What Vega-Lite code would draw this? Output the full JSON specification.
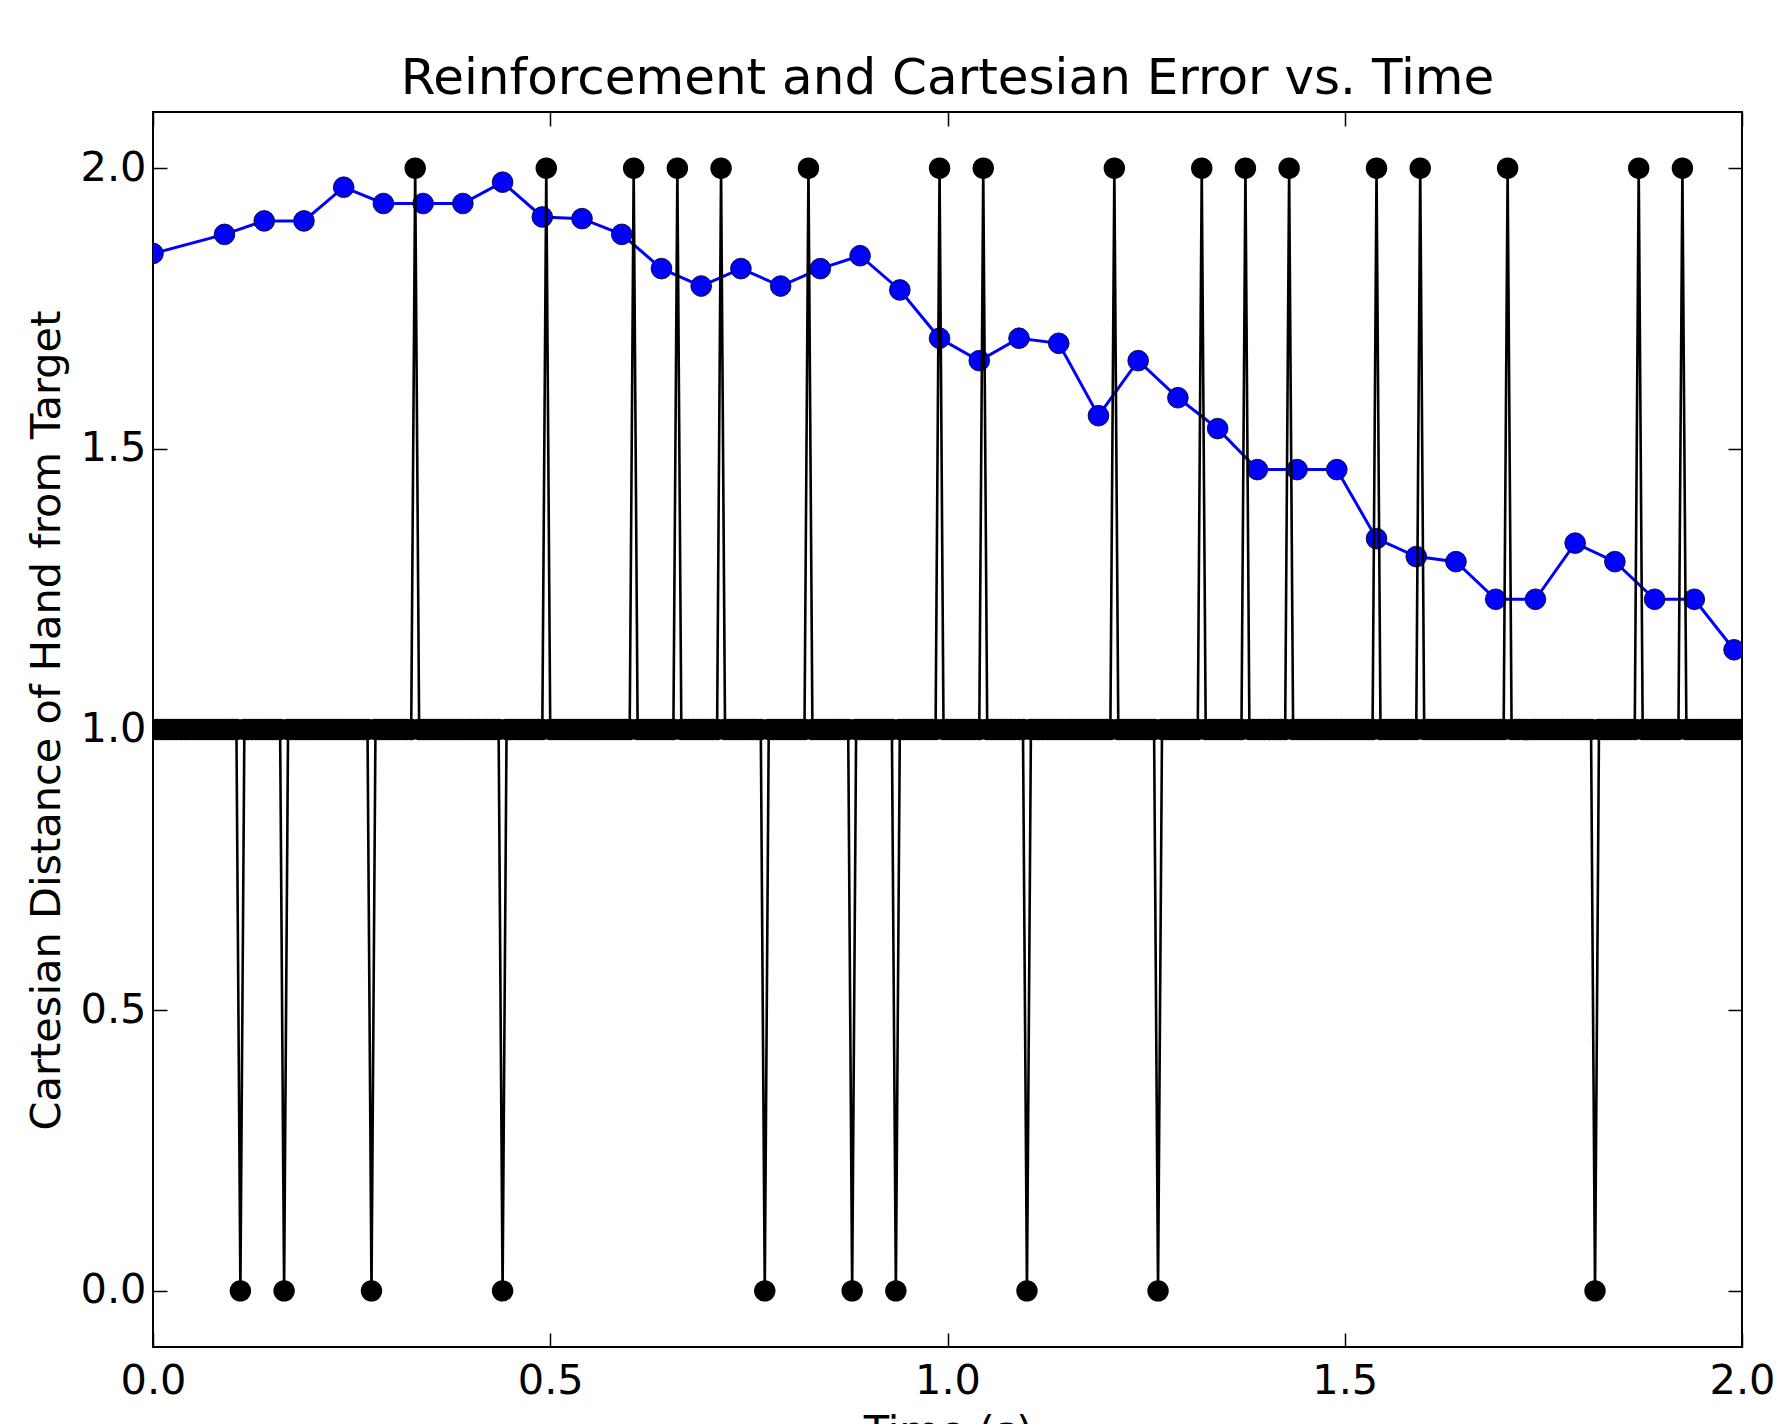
{
"$schema": "https://vega.github.io/schema/vega-lite/v6.json",
"width": 1589,
"height": 1235,
"autosize": {"type": "none"},
"padding": {"left": 153, "top": 112, "right": 35, "bottom": 77},
"background": "white",
"title": {"text": "Reinforcement and Cartesian Error vs. Time", "font": "DejaVu Sans", "fontSize": 50, "fontWeight": "normal", "color": "#000", "anchor": "middle", "frame": "group", "baseline": "alphabetic", "offset": -33},
"config": {
  "view": {"stroke": "#000", "strokeWidth": 2},
  "axis": {"domain": false, "grid": false, "tickColor": "#000", "tickWidth": 1.5, "tickSize": -14, "labelFont": "DejaVu Sans", "labelFontSize": 41.5, "labelColor": "#000", "labelFlush": false, "labelOverlap": false, "labelBound": false, "titleFont": "DejaVu Sans", "titleFontSize": 41.5, "titleColor": "#000", "titleFontWeight": "normal"}
},
"datasets": {
"blue": [
{"t":0,"d":1.848},{"t":0.09,"d":1.882},{"t":0.14,"d":1.906},{"t":0.19,"d":1.906},{"t":0.24,"d":1.966},{"t":0.29,"d":1.937},{"t":0.34,"d":1.937},{"t":0.39,"d":1.937},{"t":0.44,"d":1.975},{"t":0.49,"d":1.913},
{"t":0.54,"d":1.91},{"t":0.59,"d":1.882},{"t":0.64,"d":1.821},{"t":0.69,"d":1.79},{"t":0.74,"d":1.821},{"t":0.79,"d":1.79},{"t":0.84,"d":1.821},{"t":0.89,"d":1.844},{"t":0.94,"d":1.783},{"t":0.99,"d":1.697},
{"t":1.04,"d":1.657},{"t":1.09,"d":1.697},{"t":1.14,"d":1.688},{"t":1.19,"d":1.559},{"t":1.24,"d":1.657},{"t":1.29,"d":1.591},{"t":1.34,"d":1.536},{"t":1.39,"d":1.463},{"t":1.44,"d":1.463},{"t":1.49,"d":1.463},
{"t":1.54,"d":1.34},{"t":1.59,"d":1.308},{"t":1.64,"d":1.299},{"t":1.69,"d":1.232},{"t":1.74,"d":1.232},{"t":1.79,"d":1.332},{"t":1.84,"d":1.299},{"t":1.89,"d":1.232},{"t":1.94,"d":1.232},{"t":1.99,"d":1.142}
],
"rein": [
{"t":0,"r":1},{"t":0.005,"r":1},{"t":0.01,"r":1},{"t":0.015,"r":1},{"t":0.02,"r":1},{"t":0.025,"r":1},{"t":0.03,"r":1},{"t":0.035,"r":1},{"t":0.04,"r":1},{"t":0.045,"r":1},{"t":0.05,"r":1},{"t":0.055,"r":1},{"t":0.06,"r":1},{"t":0.065,"r":1},{"t":0.07,"r":1},{"t":0.075,"r":1},{"t":0.08,"r":1},{"t":0.085,"r":1},{"t":0.09,"r":1},{"t":0.095,"r":1},
{"t":0.1,"r":1},{"t":0.105,"r":1},{"t":0.11,"r":0},{"t":0.115,"r":1},{"t":0.12,"r":1},{"t":0.125,"r":1},{"t":0.13,"r":1},{"t":0.135,"r":1},{"t":0.14,"r":1},{"t":0.145,"r":1},{"t":0.15,"r":1},{"t":0.155,"r":1},{"t":0.16,"r":1},{"t":0.165,"r":0},{"t":0.17,"r":1},{"t":0.175,"r":1},{"t":0.18,"r":1},{"t":0.185,"r":1},{"t":0.19,"r":1},{"t":0.195,"r":1},
{"t":0.2,"r":1},{"t":0.205,"r":1},{"t":0.21,"r":1},{"t":0.215,"r":1},{"t":0.22,"r":1},{"t":0.225,"r":1},{"t":0.23,"r":1},{"t":0.235,"r":1},{"t":0.24,"r":1},{"t":0.245,"r":1},{"t":0.25,"r":1},{"t":0.255,"r":1},{"t":0.26,"r":1},{"t":0.265,"r":1},{"t":0.27,"r":1},{"t":0.275,"r":0},{"t":0.28,"r":1},{"t":0.285,"r":1},{"t":0.29,"r":1},{"t":0.295,"r":1},
{"t":0.3,"r":1},{"t":0.305,"r":1},{"t":0.31,"r":1},{"t":0.315,"r":1},{"t":0.32,"r":1},{"t":0.325,"r":1},{"t":0.33,"r":2},{"t":0.335,"r":1},{"t":0.34,"r":1},{"t":0.345,"r":1},{"t":0.35,"r":1},{"t":0.355,"r":1},{"t":0.36,"r":1},{"t":0.365,"r":1},{"t":0.37,"r":1},{"t":0.375,"r":1},{"t":0.38,"r":1},{"t":0.385,"r":1},{"t":0.39,"r":1},{"t":0.395,"r":1},
{"t":0.4,"r":1},{"t":0.405,"r":1},{"t":0.41,"r":1},{"t":0.415,"r":1},{"t":0.42,"r":1},{"t":0.425,"r":1},{"t":0.43,"r":1},{"t":0.435,"r":1},{"t":0.44,"r":0},{"t":0.445,"r":1},{"t":0.45,"r":1},{"t":0.455,"r":1},{"t":0.46,"r":1},{"t":0.465,"r":1},{"t":0.47,"r":1},{"t":0.475,"r":1},{"t":0.48,"r":1},{"t":0.485,"r":1},{"t":0.49,"r":1},{"t":0.495,"r":2},
{"t":0.5,"r":1},{"t":0.505,"r":1},{"t":0.51,"r":1},{"t":0.515,"r":1},{"t":0.52,"r":1},{"t":0.525,"r":1},{"t":0.53,"r":1},{"t":0.535,"r":1},{"t":0.54,"r":1},{"t":0.545,"r":1},{"t":0.55,"r":1},{"t":0.555,"r":1},{"t":0.56,"r":1},{"t":0.565,"r":1},{"t":0.57,"r":1},{"t":0.575,"r":1},{"t":0.58,"r":1},{"t":0.585,"r":1},{"t":0.59,"r":1},{"t":0.595,"r":1},
{"t":0.6,"r":1},{"t":0.605,"r":2},{"t":0.61,"r":1},{"t":0.615,"r":1},{"t":0.62,"r":1},{"t":0.625,"r":1},{"t":0.63,"r":1},{"t":0.635,"r":1},{"t":0.64,"r":1},{"t":0.645,"r":1},{"t":0.65,"r":1},{"t":0.655,"r":1},{"t":0.66,"r":2},{"t":0.665,"r":1},{"t":0.67,"r":1},{"t":0.675,"r":1},{"t":0.68,"r":1},{"t":0.685,"r":1},{"t":0.69,"r":1},{"t":0.695,"r":1},
{"t":0.7,"r":1},{"t":0.705,"r":1},{"t":0.71,"r":1},{"t":0.715,"r":2},{"t":0.72,"r":1},{"t":0.725,"r":1},{"t":0.73,"r":1},{"t":0.735,"r":1},{"t":0.74,"r":1},{"t":0.745,"r":1},{"t":0.75,"r":1},{"t":0.755,"r":1},{"t":0.76,"r":1},{"t":0.765,"r":1},{"t":0.77,"r":0},{"t":0.775,"r":1},{"t":0.78,"r":1},{"t":0.785,"r":1},{"t":0.79,"r":1},{"t":0.795,"r":1},
{"t":0.8,"r":1},{"t":0.805,"r":1},{"t":0.81,"r":1},{"t":0.815,"r":1},{"t":0.82,"r":1},{"t":0.825,"r":2},{"t":0.83,"r":1},{"t":0.835,"r":1},{"t":0.84,"r":1},{"t":0.845,"r":1},{"t":0.85,"r":1},{"t":0.855,"r":1},{"t":0.86,"r":1},{"t":0.865,"r":1},{"t":0.87,"r":1},{"t":0.875,"r":1},{"t":0.88,"r":0},{"t":0.885,"r":1},{"t":0.89,"r":1},{"t":0.895,"r":1},
{"t":0.9,"r":1},{"t":0.905,"r":1},{"t":0.91,"r":1},{"t":0.915,"r":1},{"t":0.92,"r":1},{"t":0.925,"r":1},{"t":0.93,"r":1},{"t":0.935,"r":0},{"t":0.94,"r":1},{"t":0.945,"r":1},{"t":0.95,"r":1},{"t":0.955,"r":1},{"t":0.96,"r":1},{"t":0.965,"r":1},{"t":0.97,"r":1},{"t":0.975,"r":1},{"t":0.98,"r":1},{"t":0.985,"r":1},{"t":0.99,"r":2},{"t":0.995,"r":1},
{"t":1,"r":1},{"t":1.005,"r":1},{"t":1.01,"r":1},{"t":1.015,"r":1},{"t":1.02,"r":1},{"t":1.025,"r":1},{"t":1.03,"r":1},{"t":1.035,"r":1},{"t":1.04,"r":1},{"t":1.045,"r":2},{"t":1.05,"r":1},{"t":1.055,"r":1},{"t":1.06,"r":1},{"t":1.065,"r":1},{"t":1.07,"r":1},{"t":1.075,"r":1},{"t":1.08,"r":1},{"t":1.085,"r":1},{"t":1.09,"r":1},{"t":1.095,"r":1},
{"t":1.1,"r":0},{"t":1.105,"r":1},{"t":1.11,"r":1},{"t":1.115,"r":1},{"t":1.12,"r":1},{"t":1.125,"r":1},{"t":1.13,"r":1},{"t":1.135,"r":1},{"t":1.14,"r":1},{"t":1.145,"r":1},{"t":1.15,"r":1},{"t":1.155,"r":1},{"t":1.16,"r":1},{"t":1.165,"r":1},{"t":1.17,"r":1},{"t":1.175,"r":1},{"t":1.18,"r":1},{"t":1.185,"r":1},{"t":1.19,"r":1},{"t":1.195,"r":1},
{"t":1.2,"r":1},{"t":1.205,"r":1},{"t":1.21,"r":2},{"t":1.215,"r":1},{"t":1.22,"r":1},{"t":1.225,"r":1},{"t":1.23,"r":1},{"t":1.235,"r":1},{"t":1.24,"r":1},{"t":1.245,"r":1},{"t":1.25,"r":1},{"t":1.255,"r":1},{"t":1.26,"r":1},{"t":1.265,"r":0},{"t":1.27,"r":1},{"t":1.275,"r":1},{"t":1.28,"r":1},{"t":1.285,"r":1},{"t":1.29,"r":1},{"t":1.295,"r":1},
{"t":1.3,"r":1},{"t":1.305,"r":1},{"t":1.31,"r":1},{"t":1.315,"r":1},{"t":1.32,"r":2},{"t":1.325,"r":1},{"t":1.33,"r":1},{"t":1.335,"r":1},{"t":1.34,"r":1},{"t":1.345,"r":1},{"t":1.35,"r":1},{"t":1.355,"r":1},{"t":1.36,"r":1},{"t":1.365,"r":1},{"t":1.37,"r":1},{"t":1.375,"r":2},{"t":1.38,"r":1},{"t":1.385,"r":1},{"t":1.39,"r":1},{"t":1.395,"r":1},
{"t":1.4,"r":1},{"t":1.405,"r":1},{"t":1.41,"r":1},{"t":1.415,"r":1},{"t":1.42,"r":1},{"t":1.425,"r":1},{"t":1.43,"r":2},{"t":1.435,"r":1},{"t":1.44,"r":1},{"t":1.445,"r":1},{"t":1.45,"r":1},{"t":1.455,"r":1},{"t":1.46,"r":1},{"t":1.465,"r":1},{"t":1.47,"r":1},{"t":1.475,"r":1},{"t":1.48,"r":1},{"t":1.485,"r":1},{"t":1.49,"r":1},{"t":1.495,"r":1},
{"t":1.5,"r":1},{"t":1.505,"r":1},{"t":1.51,"r":1},{"t":1.515,"r":1},{"t":1.52,"r":1},{"t":1.525,"r":1},{"t":1.53,"r":1},{"t":1.535,"r":1},{"t":1.54,"r":2},{"t":1.545,"r":1},{"t":1.55,"r":1},{"t":1.555,"r":1},{"t":1.56,"r":1},{"t":1.565,"r":1},{"t":1.57,"r":1},{"t":1.575,"r":1},{"t":1.58,"r":1},{"t":1.585,"r":1},{"t":1.59,"r":1},{"t":1.595,"r":2},
{"t":1.6,"r":1},{"t":1.605,"r":1},{"t":1.61,"r":1},{"t":1.615,"r":1},{"t":1.62,"r":1},{"t":1.625,"r":1},{"t":1.63,"r":1},{"t":1.635,"r":1},{"t":1.64,"r":1},{"t":1.645,"r":1},{"t":1.65,"r":1},{"t":1.655,"r":1},{"t":1.66,"r":1},{"t":1.665,"r":1},{"t":1.67,"r":1},{"t":1.675,"r":1},{"t":1.68,"r":1},{"t":1.685,"r":1},{"t":1.69,"r":1},{"t":1.695,"r":1},
{"t":1.7,"r":1},{"t":1.705,"r":2},{"t":1.71,"r":1},{"t":1.715,"r":1},{"t":1.72,"r":1},{"t":1.725,"r":1},{"t":1.73,"r":1},{"t":1.735,"r":1},{"t":1.74,"r":1},{"t":1.745,"r":1},{"t":1.75,"r":1},{"t":1.755,"r":1},{"t":1.76,"r":1},{"t":1.765,"r":1},{"t":1.77,"r":1},{"t":1.775,"r":1},{"t":1.78,"r":1},{"t":1.785,"r":1},{"t":1.79,"r":1},{"t":1.795,"r":1},
{"t":1.8,"r":1},{"t":1.805,"r":1},{"t":1.81,"r":1},{"t":1.815,"r":0},{"t":1.82,"r":1},{"t":1.825,"r":1},{"t":1.83,"r":1},{"t":1.835,"r":1},{"t":1.84,"r":1},{"t":1.845,"r":1},{"t":1.85,"r":1},{"t":1.855,"r":1},{"t":1.86,"r":1},{"t":1.865,"r":1},{"t":1.87,"r":2},{"t":1.875,"r":1},{"t":1.88,"r":1},{"t":1.885,"r":1},{"t":1.89,"r":1},{"t":1.895,"r":1},
{"t":1.9,"r":1},{"t":1.905,"r":1},{"t":1.91,"r":1},{"t":1.915,"r":1},{"t":1.92,"r":1},{"t":1.925,"r":2},{"t":1.93,"r":1},{"t":1.935,"r":1},{"t":1.94,"r":1},{"t":1.945,"r":1},{"t":1.95,"r":1},{"t":1.955,"r":1},{"t":1.96,"r":1},{"t":1.965,"r":1},{"t":1.97,"r":1},{"t":1.975,"r":1},{"t":1.98,"r":1},{"t":1.985,"r":1},{"t":1.99,"r":1},{"t":1.995,"r":1},
{"t":2,"r":1}
]
},
"resolve": {"axis": {"x": "independent", "y": "independent"}},
"layer": [
  {
    "data": {"name": "blue"},
    "mark": {"type": "line", "color": "#0000ff", "strokeWidth": 3, "clip": true},
    "encoding": {
      "x": {"field": "t", "type": "quantitative", "scale": {"domain": [0, 2], "nice": false, "zero": false},
            "axis": {"orient": "top", "title": null, "labels": false, "values": [0, 0.5, 1, 1.5, 2]}},
      "y": {"field": "d", "type": "quantitative", "scale": {"domain": [-0.1, 2.1], "nice": false, "zero": false},
            "axis": {"orient": "right", "title": null, "labels": false, "values": [0, 0.5, 1, 1.5, 2]}}
    }
  },
  {
    "data": {"name": "blue"},
    "mark": {"type": "point", "filled": true, "fill": "#0000ff", "stroke": "#000", "strokeWidth": 1, "strokeOpacity": 0.8, "opacity": 1, "size": 430, "clip": true},
    "encoding": {
      "x": {"field": "t", "type": "quantitative", "axis": null},
      "y": {"field": "d", "type": "quantitative", "axis": null}
    }
  },
  {
    "data": {"name": "rein"},
    "mark": {"type": "line", "color": "#000", "strokeWidth": 2.6, "clip": true},
    "encoding": {
      "x": {"field": "t", "type": "quantitative", "scale": {"domain": [0, 2], "nice": false, "zero": false},
            "axis": {"orient": "bottom", "title": "Time (s)", "values": [0, 0.5, 1, 1.5, 2], "format": ".1f", "labelPadding": 27, "titleBaseline": "top", "titleY": 64}},
      "y": {"field": "r", "type": "quantitative", "scale": {"domain": [-0.1, 2.1], "nice": false, "zero": false},
            "axis": {"orient": "left", "title": "Cartesian Distance of Hand from Target", "values": [0, 0.5, 1, 1.5, 2], "format": ".1f", "labelPadding": 21, "titleAngle": -90, "titleAlign": "center", "titleBaseline": "alphabetic", "titleX": -94, "titleY": 608}}
    }
  },
  {
    "data": {"name": "rein"},
    "mark": {"type": "point", "filled": true, "fill": "#000", "opacity": 1, "size": 460, "clip": true},
    "encoding": {
      "x": {"field": "t", "type": "quantitative", "axis": null},
      "y": {"field": "r", "type": "quantitative", "axis": null}
    }
  }
]
}
